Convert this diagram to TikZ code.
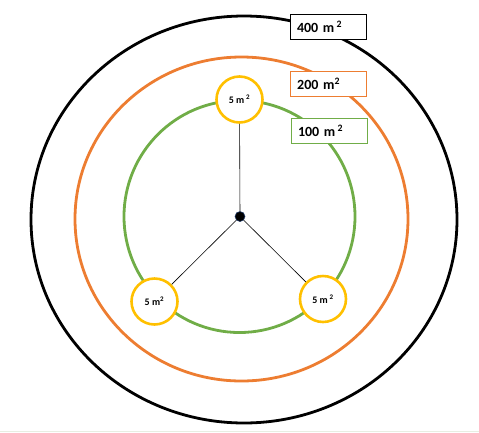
\documentclass[tikz,border=0pt]{standalone}
\usepackage{fontspec}
\setmainfont{Carlito}
\definecolor{orng}{HTML}{ED7D31}
\definecolor{grn}{HTML}{70AD47}
\definecolor{ylw}{HTML}{FFC000}
\definecolor{dotedge}{HTML}{1F3864}
\definecolor{band}{RGB}{232,238,226}
\begin{document}
\begin{tikzpicture}[x=1pt,y=-1pt,
  ring/.style={line width=2.8pt},
  areabox/.style={draw, fill=white, line width=0.9pt, minimum height=25pt,
    text width=62pt, inner xsep=7pt, align=left, font=\bfseries\fontsize{14}{16}\selectfont},
  plot/.style={circle, draw=ylw, fill=white, line width=2.6pt, minimum size=46pt,
    inner sep=0pt, font=\bfseries\fontsize{10}{12}\selectfont},
  spoke/.style={line width=0.6pt, black}]
\useasboundingbox (0,0) rectangle (479,432);
\fill[band] (0,430.5) rectangle (479,432);
% rings
\draw[ring, black] (244,219.5) ellipse [x radius=213, y radius=203.5];
\draw[ring, orng] (241.5,219) ellipse [x radius=166.5, y radius=162];
\draw[ring, grn] (239.5,216.5) ellipse [x radius=115.5, y radius=116];
% labels
\node[areabox, draw=black] (l400) at (328,26.5) {400 m\,\textsuperscript{2}};
\node[areabox, draw=orng] (l200) at (328.2,83.5) {200 m\textsuperscript{2}};
\node[areabox, draw=grn] (l100) at (329,130.5) {100 m\,\textsuperscript{2}};
% centre and plots
\node[circle, fill=black, draw=dotedge, line width=0.6pt, minimum size=10pt, inner sep=0pt] (c) at (240,216.5) {};
\node[plot] (p1) at (239.5,99.5) {5 m\,\textsuperscript{2}};
\node[plot] (p2) at (154.5,301.5) {5 m\textsuperscript{2}};
\node[plot] (p3) at (323,299) {5 m\,\textsuperscript{2}};
\draw[spoke] (c) -- (p1);
\draw[spoke] (c) -- (p2);
\draw[spoke] (c) -- (p3);
\end{tikzpicture}
\end{document}
